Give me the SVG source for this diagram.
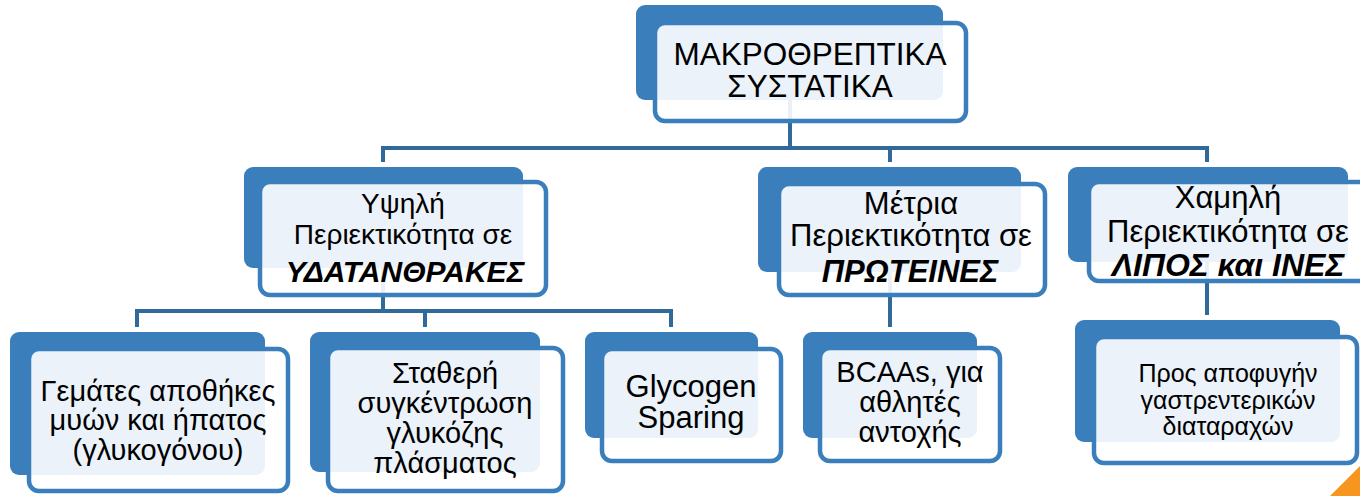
<svg xmlns="http://www.w3.org/2000/svg" width="1360" height="496" viewBox="0 0 1360 496">
<style>
.bg{fill:#3A7FBC}
.fg{fill:#ffffff;fill-opacity:0.9;stroke:#3A7FBC;stroke-width:4.5}
.con{fill:none;stroke:#2F6A9B;stroke-width:4}
text{font-family:"Liberation Sans",Arial,sans-serif;fill:#000;text-anchor:middle}
.b{font-weight:bold;font-style:italic}
</style>
<rect x="0" y="0" width="1360" height="496" fill="#ffffff"/>
<g id="connectors">
<path class="con" d="M790 100 V148"/>
<path class="con" d="M383 162 V148 H1207 V162"/>
<path class="con" d="M890 148 V162"/>
<path class="con" d="M383 268 V311"/>
<path class="con" d="M137 327 V311 H671 V327"/>
<path class="con" d="M425 311 V327"/>
<path class="con" d="M890 272 V327"/>
<path class="con" d="M1207 262 V315"/>
</g>
<g id="n-top">
<rect class="bg" x="636" y="5" width="307" height="95" rx="9"/>
<rect class="fg" x="655" y="23" width="311" height="98" rx="10"/>
<text x="810" y="65" font-size="31.5">ΜΑΚΡΟΘΡΕΠΤΙΚΑ</text>
<text x="810" y="97" font-size="31.5">ΣΥΣΤΑΤΙΚΑ</text>
</g>
<g id="n-carbs">
<rect class="bg" x="244" y="167" width="279" height="101" rx="9"/>
<rect class="fg" x="260" y="182" width="286" height="113" rx="10"/>
<text x="403" y="213" font-size="28">Υψηλή</text>
<text x="403" y="244" font-size="28">Περιεκτικότητα σε</text>
<text x="405" y="282" font-size="30" class="b">ΥΔΑΤΑΝΘΡΑΚΕΣ</text>
</g>
<g id="n-protein">
<rect class="bg" x="758" y="167" width="263" height="105" rx="9"/>
<rect class="fg" x="779" y="184" width="266" height="111" rx="10"/>
<text x="911" y="214" font-size="31">Μέτρια</text>
<text x="911" y="246" font-size="31">Περιεκτικότητα σε</text>
<text x="910" y="282" font-size="31" class="b">ΠΡΩΤΕΙΝΕΣ</text>
</g>
<g id="n-fat">
<rect class="bg" x="1068" y="167" width="280" height="95" rx="9"/>
<rect class="fg" x="1089" y="182" width="280" height="99" rx="10"/>
<text x="1228" y="208" font-size="31">Χαμηλή</text>
<text x="1228" y="242" font-size="31">Περιεκτικότητα σε</text>
<text x="1228" y="276" font-size="32" class="b">ΛΙΠΟΣ και ΙΝΕΣ</text>
</g>
<g id="n-glycogen-stores">
<rect class="bg" x="10" y="332" width="255" height="143" rx="9"/>
<rect class="fg" x="29" y="349" width="259" height="142" rx="10"/>
<text x="158" y="401" font-size="29">Γεμάτες αποθήκες</text>
<text x="158" y="430" font-size="29">μυών και ήπατος</text>
<text x="158" y="460" font-size="29">(γλυκογόνου)</text>
</g>
<g id="n-glucose">
<rect class="bg" x="310" y="332" width="230" height="140" rx="9"/>
<rect class="fg" x="328" y="348" width="235" height="143" rx="10"/>
<text x="445" y="383" font-size="29">Σταθερή</text>
<text x="445" y="413" font-size="29">συγκέντρωση</text>
<text x="445" y="443" font-size="29">γλυκόζης</text>
<text x="445" y="473" font-size="29">πλάσματος</text>
</g>
<g id="n-sparing">
<rect class="bg" x="585" y="332" width="173" height="106" rx="9"/>
<rect class="fg" x="602" y="349" width="179" height="112" rx="10"/>
<text x="691" y="397" font-size="31">Glycogen</text>
<text x="691" y="428" font-size="31">Sparing</text>
</g>
<g id="n-bcaa">
<rect class="bg" x="803" y="332" width="174" height="106" rx="9"/>
<rect class="fg" x="820" y="348" width="180" height="113" rx="10"/>
<text x="910" y="382" font-size="29">BCAAs, για</text>
<text x="910" y="412" font-size="29">αθλητές</text>
<text x="910" y="442" font-size="29">αντοχής</text>
</g>
<g id="n-gi">
<rect class="bg" x="1075" y="320" width="265" height="122" rx="9"/>
<rect class="fg" x="1094" y="337" width="263" height="126" rx="10"/>
<text x="1228" y="382" font-size="25">Προς αποφυγήν</text>
<text x="1228" y="409" font-size="25">γαστρεντερικών</text>
<text x="1228" y="435" font-size="25">διαταραχών</text>
</g>
<polygon points="1330,496 1360,466 1360,496" fill="#F7961E"/>
</svg>
